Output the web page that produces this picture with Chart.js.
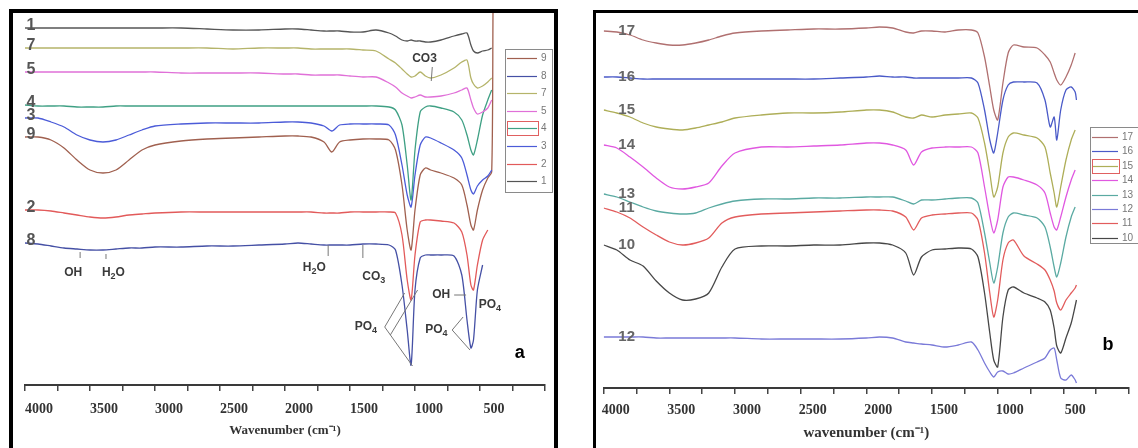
<!DOCTYPE html>
<html>
<head>
<meta charset="utf-8">
<script src="https://cdn.jsdelivr.net/npm/chart.js@4.4.1/dist/chart.umd.min.js"></script>
<style>
  html, body { margin: 0; padding: 0; background: #fff; width: 1138px; height: 448px; overflow: hidden; position: relative; }
  canvas { position: absolute; top: 0; }
  #ca { left: 0; }
  #cb { left: 575px; }
  .frame { position: absolute; box-sizing: border-box; pointer-events: none; }
  #fa { left: 9px; top: 9px; width: 549px; height: 470px; border: 4px solid #000; }
  #fb { left: 593px; top: 10px; width: 620px; height: 470px; border: 3px solid #000; }
</style>
</head>
<body>
<canvas id="ca" width="560" height="448"></canvas>
<canvas id="cb" width="563" height="448"></canvas>
<div class="frame" id="fa"></div>
<div class="frame" id="fb"></div>
<script>
// wavenumber grid (cm-1) shared by the traces of each panel
const waveA = [4000, 3900, 3800, 3700, 3600, 3500, 3400, 3300, 3200, 3100, 3000, 2800, 2600, 2400, 2200, 2000, 1900, 1800, 1700, 1640, 1580, 1500, 1400, 1300, 1200, 1150, 1100, 1060, 1030, 1000, 960, 920, 880, 800, 700, 640, 600, 570, 550, 520, 480, 440, 410, 400];
const waveB = waveA.slice();

// panel a transmittance (a.u., stacked)
const s1 = [357,357,357,357,357,357,357,357,357,357,357,357,356,355,355,356,356,355,354,354,354,353,353,355,352,349,345,344,345,344,344,343,343,345,349,351,352,340,334,332,334,335,337,null];
const s7 = [337,337,337,337,337,337,337,337,337,337,337,337,337,336,337,337,337,336,336,336,336,336,335,334,326,322,316,311,308,309,313,309,307,310,317,323,325,307,301,297,299,303,307,null];
const s5 = [313,313,313,313,313,313,313,313,313,313,313,312,312,312,312,311,311,310,310,310,310,309,308,308,302,298,292,289,287,288,290,288,288,289,292,295,297,285,277,271,273,277,285,null];
const s4 = [280,279,279,279,278,278,278,279,279,279,279,279,279,279,279,279,279,279,279,279,279,279,279,279,278,275,260,220,185,235,273,278,279,277,273,265,250,235,230,245,270,285,295,null];
const s3 = [267,267,263,258,250,245,243,245,250,255,259,261,262,262,262,263,263,262,259,254,260,261,261,261,260,250,220,190,178,210,240,248,247,242,235,227,210,195,191,199,205,209,215,null];
const s9 = [248,248,245,237,225,215,212,215,225,235,240,244,246,247,248,249,249,248,243,233,243,245,246,246,245,235,200,155,135,175,210,217,215,212,207,200,180,160,155,175,195,207,213,372];
const s2 = [175,175,174,172,170,168,167,168,170,171,172,173,173,173,173,173,173,173,172,172,172,173,173,173,173,172,150,105,85,130,163,165,165,164,162,153,130,100,95,120,145,155,null,null];
const s8 = [142,141,139,137,136,135,135,136,137,137,138,138,139,139,140,141,142,141,140,140,140,140,141,141,140,135,100,55,20,95,127,130,130,130,129,110,65,37,45,95,120,null,null,null];

// panel b transmittance (a.u., stacked)
const s17 = [357,356,353,348,345,343,343,345,348,352,355,357,358,359,359,360,361,360,356,355,357,357,356,358,358,355,331,301,278,268,305,335,343,341,340,333,326,315,308,303,311,323,335,null];
const s16 = [311,311,310,309,309,309,309,309,309,309,309,309,309,309,310,311,312,311,311,310,310,310,310,310,310,305,278,248,235,255,288,303,306,306,305,288,261,271,248,278,298,301,296,288];
const s15 = [278,275,271,265,261,259,258,260,263,266,270,273,275,275,276,278,278,276,271,270,273,271,273,274,275,270,245,215,191,201,235,251,255,253,250,241,215,195,181,201,228,248,258,null];
const s14 = [243,240,231,221,210,201,199,201,205,222,235,241,241,242,243,245,245,243,238,223,236,240,241,241,241,235,201,171,155,168,201,211,211,208,203,195,175,161,158,171,191,208,218,null];
const s13 = [194,191,186,181,177,175,174,175,180,184,187,189,189,190,190,191,191,191,187,184,188,188,189,190,190,185,155,125,105,121,155,171,175,173,170,161,141,121,111,125,151,171,181,null];
const s11 = [180,176,170,161,153,146,143,145,150,165,171,174,175,176,177,178,178,177,171,158,170,173,174,175,175,168,135,95,71,88,128,145,148,132,124,118,108,97,85,78,88,95,100,103];
const s10 = [143,138,128,122,107,95,88,89,95,121,139,142,142,143,143,145,145,143,135,113,131,138,139,140,139,131,95,55,28,21,71,98,101,95,90,86,78,60,42,35,50,65,82,88];
const s12 = [51,51,51,51,50,50,50,50,50,50,50,49,49,49,49,50,51,50,46,45,44,43,41,43,46,38,25,16,11,16,17,14,15,20,26,30,38,40,28,10,8,13,8,5];

const namesA = ['1', '7', '5', '4', '3', '9', '2', '8'];
const valuesA = [s1, s7, s5, s4, s3, s9, s2, s8];
const colorsA = ['#555555', '#b5b46a', '#e070d8', '#3fa084', '#4b5bd8', '#a0604f', '#e25a5a', '#4550a5'];
const legendOrderA = ['9', '8', '7', '5', '4', '3', '2', '1'];

const namesB = ['17', '16', '15', '14', '13', '11', '10', '12'];
const valuesB = [s17, s16, s15, s14, s13, s11, s10, s12];
const colorsB = ['#b07070', '#4a5ac8', '#aeae58', '#e058e0', '#5aaaa2', '#e25c5c', '#474747', '#7a7ad8'];
const legendOrderB = ['17', '16', '15', '14', '13', '12', '11', '10'];

// band assignments for panel a, placed in data units (wavenumber, a.u.)
const bandNotesA = [
  { t: 'CO3', wn: 927, v: 326 },
  { t: 'OH', wn: 3629, v: 112 },
  { t: 'H_2O', wn: 3320, v: 112 },
  { t: 'H_2O', wn: 1775, v: 117 },
  { t: 'CO_3', wn: 1317, v: 108 },
  { t: 'OH', wn: 798, v: 90 },
  { t: 'PO_4', wn: 424, v: 80 },
  { t: 'PO_4', wn: 1378, v: 58 },
  { t: 'PO_4', wn: 836, v: 55 },
  { t: 'a', wn: 195, v: 32, font: 'bold 18px "Liberation Sans"', color: '#000' }
];
const bandLinesA = [
  [867, 318, 875, 304],
  [3576, 133, 3576, 127],
  [3377, 131, 3377, 126],
  [1668, 140, 1668, 129],
  [1401, 140, 1401, 127],
  [699, 90, 607, 90],
  [1233, 58, 1080, 92],
  [1233, 58, 1019, 19],
  [1190, 50, 980, 95],
  [714, 55, 630, 68],
  [714, 55, 577, 35]
];
const bandNotesB = [
  { t: 'b', wn: 160, v: 43, font: 'bold 18px "Liberation Sans"', color: '#000' }
];

function drawSubText(ctx, text, cx, cy, font, subFont) {
  const parts = [];
  for (let i = 0; i < text.length; i++) {
    if (text[i] === '_') { parts.push({ s: text[i + 1], sub: true }); i++; }
    else parts.push({ s: text[i], sub: false });
  }
  let w = 0;
  parts.forEach(p => { ctx.font = p.sub ? subFont : font; p.w = ctx.measureText(p.s).width; w += p.w; });
  let x = cx - w / 2;
  ctx.textAlign = 'left';
  ctx.textBaseline = 'middle';
  parts.forEach(p => {
    ctx.font = p.sub ? subFont : font;
    ctx.fillText(p.s, x, p.sub ? cy + 4 : cy);
    x += p.w;
  });
}

const panelNotes = {
  id: 'panelNotes',
  afterDatasetsDraw(chart, args, o) {
    const { ctx, scales: { x, y } } = chart;
    ctx.save();

    // trace numbers sitting on the start of each trace
    ctx.fillStyle = o.numColor;
    ctx.font = o.numFont;
    ctx.textAlign = 'center';
    ctx.textBaseline = 'middle';
    chart.data.datasets.forEach(ds => {
      const first = ds.data.find(p => p.y !== null);
      ctx.fillText(ds.label, x.getPixelForValue(first.x) + o.numDx, y.getPixelForValue(first.y) + o.numDy);
    });

    // legend box
    const L = o.legend;
    ctx.strokeStyle = '#8a8a8a';
    ctx.lineWidth = 1;
    ctx.strokeRect(L.x + 0.5, L.y + 0.5, L.w, L.h);
    ctx.font = '10px "Liberation Sans"';
    ctx.textAlign = 'left';
    L.order.forEach((name, i) => {
      const ds = chart.data.datasets.find(d => d.label === name);
      const ry = Math.round(L.y + L.first + i * L.step) + 0.5;
      ctx.strokeStyle = ds.borderColor;
      ctx.lineWidth = 1.2;
      ctx.beginPath();
      ctx.moveTo(L.x + 2, ry);
      ctx.lineTo(L.x + 2 + L.line, ry);
      ctx.stroke();
      ctx.fillStyle = '#777';
      ctx.fillText(name, L.x + L.line + 6, ry);
      if (name === L.boxed) {
        ctx.strokeStyle = '#e06060';
        ctx.lineWidth = 1;
        ctx.strokeRect(L.x + 2.5, ry - 7, L.line + 1, 14);
      }
    });

    // assignment lines and labels
    ctx.strokeStyle = '#777';
    ctx.lineWidth = 1;
    (o.lines || []).forEach(l => {
      ctx.beginPath();
      ctx.moveTo(x.getPixelForValue(l[0]), y.getPixelForValue(l[1]));
      ctx.lineTo(x.getPixelForValue(l[2]), y.getPixelForValue(l[3]));
      ctx.stroke();
    });
    (o.notes || []).forEach(n => {
      ctx.fillStyle = n.color || '#3a3a3a';
      drawSubText(ctx, n.t, x.getPixelForValue(n.wn), y.getPixelForValue(n.v),
        n.font || 'bold 12px "Liberation Sans"', 'bold 9px "Liberation Sans"');
    });
    ctx.restore();
  }
};

function makeDatasets(wave, names, values, colors) {
  return names.map((name, k) => ({
    label: name,
    data: wave.map((w, i) => ({ x: w, y: values[k][i] })),
    borderColor: colors[k],
    borderWidth: 1.3,
    pointRadius: 0,
    tension: 0.25,
    fill: false
  }));
}

// tick padding is counted on both sides of the labels by Chart.js, so the
// title padding is pulled in to keep the title close to the numbers
function xAxis(title, labelOffset, pad, titleSize, titlePad) {
  return {
    type: 'linear',
    reverse: true,
    min: 0,
    max: 4000,
    border: { display: true, color: '#3a3a3a', width: 2 },
    grid: { drawOnChartArea: false, drawTicks: true, tickLength: 6, color: '#444', lineWidth: 1.5 },
    ticks: {
      stepSize: 250,
      autoSkip: false,
      maxRotation: 0,
      labelOffset: labelOffset,
      padding: pad,
      color: '#333',
      font: { family: 'Liberation Serif', weight: 'bold', size: 14, lineHeight: 1 },
      callback: v => (v % 500 === 0 && v > 0) ? String(v) : ''
    },
    title: {
      display: true,
      text: title,
      color: '#333',
      font: { family: 'Liberation Serif', weight: 'bold', size: titleSize, lineHeight: 1 },
      padding: titlePad
    }
  };
}

new Chart(document.getElementById('ca'), {
  type: 'line',
  data: { datasets: makeDatasets(waveA, namesA, valuesA, colorsA) },
  options: {
    responsive: false,
    animation: false,
    devicePixelRatio: 1,
    layout: { padding: { left: 21.4, right: 15, top: 12, bottom: 9 } },
    scales: {
      x: xAxis('Wavenumber (cm\u207B\u00B9)', 14, 11, 13, { top: -3, bottom: 2 }),
      y: { display: false, min: 0, max: 373 }
    },
    plugins: {
      legend: { display: false },
      tooltip: { enabled: false },
      panelNotes: {
        numColor: '#555', numFont: 'bold 16px "Liberation Sans"', numDx: 6, numDy: -2,
        legend: { x: 505, y: 49, w: 47, h: 143, first: 9, step: 17.6, line: 30, order: legendOrderA, boxed: '4' },
        notes: bandNotesA,
        lines: bandLinesA
      }
    }
  },
  plugins: [panelNotes]
});

new Chart(document.getElementById('cb'), {
  type: 'line',
  data: { datasets: makeDatasets(waveB, namesB, valuesB, colorsB) },
  options: {
    responsive: false,
    animation: false,
    devicePixelRatio: 1,
    layout: { padding: { left: 28.7, right: 0, top: 14, bottom: 5.5 } },
    scales: {
      x: xAxis('wavenumber (cm\u207B\u00B9)', 12, 9, 15, { top: -0.5, bottom: 2 }),
      y: { display: false, min: 0, max: 374 }
    },
    plugins: {
      legend: { display: false },
      tooltip: { enabled: false },
      panelNotes: {
        numColor: '#666', numFont: 'bold 15px "Liberation Sans"', numDx: 23, numDy: 0,
        legend: { x: 515, y: 127, w: 60, h: 116, first: 10, step: 14.4, line: 26, order: legendOrderB, boxed: '15' },
        notes: bandNotesB,
        lines: []
      }
    }
  },
  plugins: [panelNotes]
});
</script>
</body>
</html>
